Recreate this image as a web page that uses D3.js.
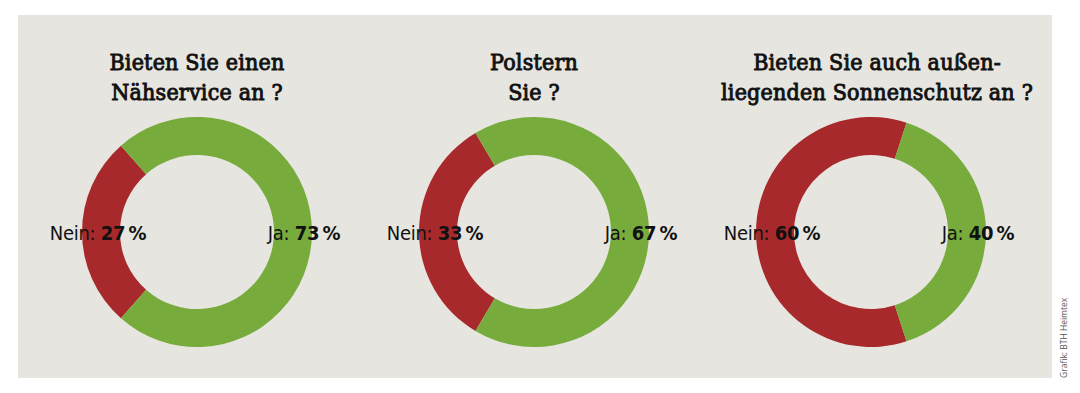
<!DOCTYPE html>
<html>
<head>
<meta charset="utf-8">
<script src="https://cdn.jsdelivr.net/npm/d3@7"></script>
<style>
  body { margin: 0; background: #fff; }
  svg { display: block; }
</style>
</head>
<body>
<svg></svg>
<script>
var titles = [
  ["Bieten Sie einen", "Nähservice an ?"],
  ["Polstern", "Sie ?"],
  ["Bieten Sie auch außen-", "liegenden Sonnenschutz an ?"]
];
var categories = ["Nein", "Ja"];
var neinValues = [27, 33, 60];
var jaValues = [73, 67, 40];
var credit = "Grafik: BTH Heimtex";

var width = 1080, height = 393;
var svg = d3.select("svg").attr("width", width).attr("height", height);

var color = d3.scaleOrdinal().domain(categories).range(["#a8292b", "#77ac3d"]);

svg.append("rect")
    .attr("x", 18).attr("y", 15)
    .attr("width", 1034).attr("height", 363)
    .attr("fill", "#e6e5df");

var x = d3.scalePoint().domain([0, 1, 2]).range([197, 871]);
var cy = 232,
    outerR = 115,
    innerR = 77;

var arc = d3.arc().innerRadius(innerR).outerRadius(outerR);

titles.forEach(function(t, i) {
  var cx = x(i);
  var data = [
    { key: categories[0], value: neinValues[i] },
    { key: categories[1], value: jaValues[i] }
  ];
  var total = neinValues[i] + jaValues[i];
  // Nein slice centred on the left side
  var start = -Math.PI / 2 - (neinValues[i] / total) * Math.PI;
  var pie = d3.pie().sort(null).value(function(d) { return d.value; })
      .startAngle(start).endAngle(start + 2 * Math.PI);

  var g = svg.append("g").attr("transform", "translate(" + cx + "," + cy + ")");

  g.selectAll("path")
    .data(pie(data))
    .enter().append("path")
      .attr("d", arc)
      .attr("fill", function(d) { return color(d.data.key); });

  var title = svg.append("text")
      .attr("text-anchor", "middle")
      .attr("font-family", "'DejaVu Serif Condensed', 'DejaVu Serif', serif")
      .attr("font-size", 23)
      .attr("letter-spacing", 0.2)
      .attr("fill", "#111")
      .attr("stroke", "#111")
      .attr("stroke-width", 0.9);
  t.forEach(function(line, j) {
    title.append("tspan")
      .attr("x", cx + (i === 2 ? 6 : 0))
      .attr("y", 70 + j * 30)
      .text(line);
  });

  var labelPos = [cx - 99, cx + 107];
  data.forEach(function(d, k) {
    var lab = svg.append("text")
        .attr("x", labelPos[k])
        .attr("y", cy + 8)
        .attr("text-anchor", "middle")
        .attr("font-family", "'Liberation Sans Narrow', 'DejaVu Sans Condensed', sans-serif")
        .attr("font-size", 20)
        .attr("letter-spacing", -0.3)
        .attr("fill", "#111");
    lab.append("tspan").text(d.key + ": ");
    lab.append("tspan").attr("font-weight", "bold").text(d.value + "\u2009%");
  });
});

svg.append("text")
    .attr("transform", "translate(1067,378) rotate(-90)")
    .attr("font-family", "'Open Sans', sans-serif")
    .attr("font-size", 8.5)
    .attr("fill", "#555")
    .text(credit);
</script>
</body>
</html>
